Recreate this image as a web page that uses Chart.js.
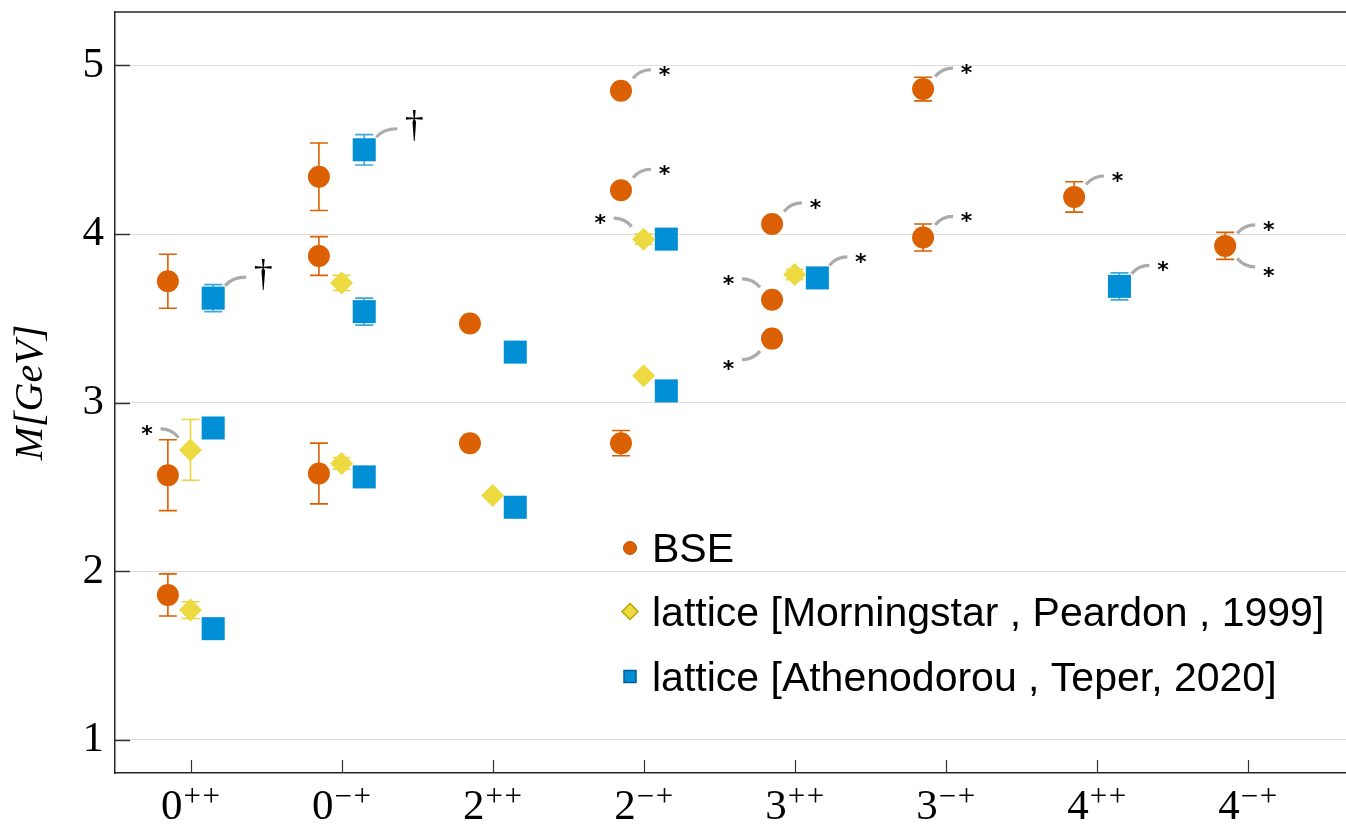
<!DOCTYPE html>
<html><head><meta charset="utf-8">
<script src="https://cdn.jsdelivr.net/npm/chart.js@4"></script>
<style>html,body{margin:0;padding:0;background:#fff;overflow:hidden}</style>
</head><body>
<canvas id="c" width="1346" height="824"></canvas>
<script>
// ---------- data ----------
const categories = ['0++','0-+','2++','2-+','3++','3-+','4++','4-+'];
const tickBase = ['0','0','2','2','3','3','4','4'];
const tickSup  = ['++','\u2212+','++','\u2212+','++','\u2212+','++','\u2212+'];
const yTicks = [1,2,3,4,5];

const seriesNames = ['BSE', 'lattice [Morningstar , Peardon , 1999]', 'lattice [Athenodorou , Teper, 2020]'];

// BSE
const bseCat  = [0,0,0, 1,1,1, 2,2, 3,3,3, 4,4,4, 5,5, 6, 7];
const bseMass = [3.72,2.57,1.86, 4.34,3.87,2.58, 3.47,2.76, 4.85,4.26,2.76, 4.06,3.61,3.38, 4.86,3.98, 4.22, 3.93];
const bseErr  = [0.16,0.21,0.125, 0.20,0.115,0.18, 0,0, 0,0,0.075, 0,0,0, 0.07,0.08, 0.09, 0.08];

// lattice Morningstar & Peardon 1999
const mpCat  = [0,0, 1,1, 2, 3,3, 4];
const mpMass = [2.72,1.77, 3.71,2.64, 2.45, 3.97,3.16, 3.76];
const mpErr  = [0.18,0.05, 0.045,0.035, 0, 0.03,0, 0.03];

// lattice Athenodorou & Teper 2020
const atCat  = [0,0,0, 1,1,1, 2,2, 3,3, 4, 6];
const atMass = [3.62,2.85,1.66, 4.50,3.54,2.56, 3.30,2.38, 3.97,3.07, 3.74, 3.69];
const atErr  = [0.08,0,0, 0.09,0.08,0, 0,0, 0.04,0, 0.04, 0.08];

// annotations: dataset index, point index, direction, symbol
const noteSet = [2,1,2, 0,0,1, 0,0,0,2, 0,0, 0,2, 0,0];
const notePt  = [0,0,3, 8,9,5, 11,12,13,10, 14,15, 16,11, 17,17];
const noteDir = ['ur','ul','ur', 'ur','ur','ul', 'ur','ul','dl','ur', 'ur','ur', 'ur','ur', 'ur','dr'];
const noteSym = ['\u2020','*','\u2020', '*','*','*', '*','*','*','*', '*','*', '*','*', '*','*'];

// ---------- styles ----------
const ORANGE = '#DA6002', YELLOW = '#ECDA40', BLUE = '#008FD5';
const offsets = [-0.15, 0, 0.15];

function pts(cat, mass, off) { return cat.map((c, i) => ({x: c + 1 + off, y: mass[i]})); }

const datasets = [
  {label: seriesNames[0], data: pts(bseCat, bseMass, offsets[0]), err: bseErr, errColor: ORANGE,
   pointStyle: 'circle', pointRadius: 11, backgroundColor: ORANGE, borderColor: ORANGE, borderWidth: 0},
  {label: seriesNames[1], data: pts(mpCat, mpMass, offsets[1]), err: mpErr, errColor: '#EAD53A',
   pointStyle: 'rectRot', pointRadius: 11.5, backgroundColor: YELLOW, borderColor: YELLOW, borderWidth: 0},
  {label: seriesNames[2], data: pts(atCat, atMass, offsets[2]), err: atErr, errColor: '#3AA7E2',
   pointStyle: 'rect', pointRadius: 16.3, backgroundColor: BLUE, borderColor: BLUE, borderWidth: 0}
];

const extras = {
  id: 'extras',
  beforeDatasetsDraw(chart) {
    const ctx = chart.ctx, xs = chart.scales.x, ys = chart.scales.y, ca = chart.chartArea;
    ctx.save();
    // inward tick marks
    ctx.strokeStyle = '#333'; ctx.lineWidth = 1.5;
    ys.ticks.forEach(t => { const y = Math.round(ys.getPixelForValue(t.value)) + 0.5;
      ctx.beginPath(); ctx.moveTo(ca.left, y); ctx.lineTo(ca.left + 15, y); ctx.stroke(); });
    ctx.lineWidth = 1.2;
    xs.ticks.forEach(t => { const x = Math.round(xs.getPixelForValue(t.value)) + 0.5;
      ctx.beginPath(); ctx.moveTo(x, ca.bottom); ctx.lineTo(x, ca.bottom - 13); ctx.stroke(); });
    // error bars
    chart.data.datasets.forEach(ds => {
      ds.err.forEach((e, i) => {
        if (!e) return;
        const p = ds.data[i];
        const px = xs.getPixelForValue(p.x);
        const y1 = ys.getPixelForValue(p.y + e), y2 = ys.getPixelForValue(p.y - e);
        ctx.strokeStyle = ds.errColor; ctx.lineWidth = 1.6;
        ctx.beginPath();
        ctx.moveTo(px, y1); ctx.lineTo(px, y2);
        ctx.moveTo(px - 9, y1); ctx.lineTo(px + 9, y1);
        ctx.moveTo(px - 9, y2); ctx.lineTo(px + 9, y2);
        ctx.stroke();
      });
    });
    // annotation connectors and symbols
    noteSet.forEach((si, k) => {
      const p = chart.data.datasets[si].data[notePt[k]];
      const cx = xs.getPixelForValue(p.x), cy = ys.getPixelForValue(p.y);
      const d = noteDir[k];
      const sx = d[1] === 'r' ? 1 : -1, sy = d[0] === 'u' ? -1 : 1;
      const dag = noteSym[k] === '\u2020';
      const endX = dag ? 33 : 30;
      ctx.strokeStyle = '#ABABAB'; ctx.lineWidth = 3.2; ctx.lineCap = 'butt';
      ctx.beginPath();
      ctx.moveTo(cx + sx * 12, cy + sy * 12.5);
      ctx.quadraticCurveTo(cx + sx * 19, cy + sy * 21, cx + sx * endX, cy + sy * 21);
      ctx.stroke();
      ctx.fillStyle = '#000';
      let tx, ty;
      if (dag) { ctx.font = '38px "Liberation Serif"'; tx = cx + sx * 50; ty = cy + sy * 24; }
      else { ctx.font = 'bold 22px "DejaVu Sans"'; tx = cx + sx * 43.5; ty = cy + (sy < 0 ? -20 : 26); }
      const m = ctx.measureText(noteSym[k]);
      ctx.textAlign = 'center'; ctx.textBaseline = 'alphabetic';
      ctx.fillText(noteSym[k], tx, ty + (m.actualBoundingBoxAscent - m.actualBoundingBoxDescent) / 2);
    });
    ctx.restore();
  },
  afterDraw(chart) {
    const ctx = chart.ctx, ca = chart.chartArea, xs = chart.scales.x;
    ctx.save();
    // top frame line
    ctx.strokeStyle = '#262626'; ctx.lineWidth = 1.5;
    ctx.beginPath(); ctx.moveTo(ca.left, ca.top); ctx.lineTo(ca.right, ca.top); ctx.stroke();
    // x tick labels: base digit with superscript parity signs
    ctx.fillStyle = '#000'; ctx.textBaseline = 'alphabetic'; ctx.textAlign = 'left';
    const baseFont = '43px "Liberation Serif"', supFont = '31px "Liberation Serif"';
    xs.ticks.forEach((t, i) => {
      const cx = xs.getPixelForValue(t.value);
      ctx.font = baseFont; const wb = ctx.measureText(tickBase[i]).width;
      ctx.font = supFont;
      const chars = tickSup[i].split('');
      const ws = chars.map(c => ctx.measureText(c).width);
      const gap = 1.5;
      const total = wb + 1 + ws.reduce((a, b) => a + b, 0) + gap * (chars.length - 1);
      let x = cx - total / 2;
      const baseY = ca.bottom + 46;
      ctx.font = baseFont; ctx.fillText(tickBase[i], x, baseY); x += wb + 1;
      ctx.font = supFont;
      chars.forEach((c, j) => { ctx.fillText(c, x, baseY - 13); x += ws[j] + gap; });
    });
    // legend
    const lx = 630, ly = [548, 611.5, 676.5], tx = 652;
    ctx.fillStyle = ORANGE; ctx.strokeStyle = '#B84E00'; ctx.lineWidth = 1;
    ctx.beginPath(); ctx.arc(lx, ly[0], 6.5, 0, Math.PI * 2); ctx.fill(); ctx.stroke();
    ctx.fillStyle = YELLOW; ctx.strokeStyle = '#B9A400'; ctx.lineWidth = 1.5;
    ctx.beginPath(); ctx.moveTo(lx, ly[1] - 8); ctx.lineTo(lx + 8, ly[1]); ctx.lineTo(lx, ly[1] + 8); ctx.lineTo(lx - 8, ly[1]); ctx.closePath(); ctx.fill(); ctx.stroke();
    ctx.fillStyle = BLUE; ctx.strokeStyle = '#005C9A'; ctx.lineWidth = 1.5;
    ctx.beginPath(); ctx.rect(lx - 6, ly[2] - 6, 12, 12); ctx.fill(); ctx.stroke();
    ctx.fillStyle = '#000'; ctx.font = '41px "Liberation Sans"'; ctx.textAlign = 'left'; ctx.textBaseline = 'alphabetic';
    const capH = ctx.measureText('B').actualBoundingBoxAscent;
    seriesNames.forEach((s, i) => ctx.fillText(s, tx, ly[i] + capH / 2));
    ctx.restore();
  }
};

new Chart(document.getElementById('c'), {
  type: 'scatter',
  data: {datasets},
  options: {
    responsive: false, animation: false, events: [],
    layout: {autoPadding: false, padding: {top: 12, right: 0, left: 0, bottom: 0}},
    plugins: {legend: {display: false}, tooltip: {enabled: false}},
    scales: {
      x: {
        type: 'linear', min: 0.5, max: 8.65,
        afterFit(s) { s.height = 51; s.paddingLeft = 0; s.paddingRight = 0; s.paddingTop = 0; s.paddingBottom = 0; },
        afterBuildTicks(s) { s.ticks = categories.map((c, i) => ({value: i + 1})); },
        grid: {display: false, drawTicks: false},
        border: {display: true, color: '#262626', width: 1.5},
        ticks: {display: false}
      },
      y: {
        type: 'linear', min: 0.804, max: 5.317,
        afterFit(s) { s.width = 115; s.paddingTop = 0; s.paddingBottom = 0; s.paddingLeft = 0; s.paddingRight = 0; },
        afterBuildTicks(s) { s.ticks = yTicks.map(v => ({value: v})); },
        grid: {color: '#DCDCDC', lineWidth: 1, drawTicks: false},
        border: {display: true, color: '#262626', width: 1.5},
        ticks: {color: '#000', padding: 11, font: {family: '"Liberation Serif"', size: 43}},
        title: {display: true, text: 'M[GeV]', color: '#000', padding: {top: 7, bottom: 0},
          font: {family: '"Liberation Serif"', size: 40, style: 'italic'}}
      }
    }
  },
  plugins: [extras]
});
</script>
</body></html>
